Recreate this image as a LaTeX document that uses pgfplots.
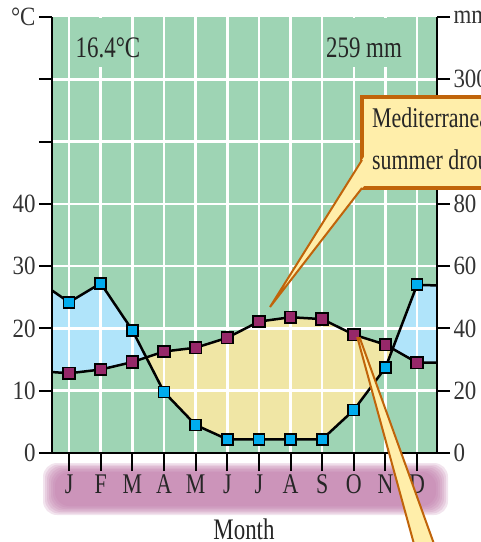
\documentclass[border=0pt]{standalone}
\usepackage{fontspec}
\setmainfont{Liberation Serif}
\usepackage{graphicx}
\usepackage{pgfplots}
\pgfplotsset{compat=1.18}
\usepgfplotslibrary{fillbetween}
\usepackage{pgfplotstable}

\definecolor{bggreen}{RGB}{158,212,180}
\definecolor{humid}{RGB}{176,228,250}
\definecolor{arid}{RGB}{240,230,165}
\definecolor{tempmark}{RGB}{150,40,105}
\definecolor{precmark}{RGB}{0,172,238}
\definecolor{boxfill}{RGB}{255,238,170}
\definecolor{boxedge}{RGB}{192,100,10}
\definecolor{bandcore}{RGB}{190,120,168}

% taller-than-wide lettering
\newcommand{\tl}[1]{\scalebox{1}[1.3]{#1}}
\newcommand{\tn}[1]{\scalebox{1}[1.15]{#1}}

% monthly mean temperature (degC) and precipitation (mm);
% the first and last rows continue the curves to the frame edges
\pgfplotstableread{
m      t     p
0.46   13.0  52.2
1      12.8  48.4
2      13.4  54.5
3      14.6  39.4
4      16.3  19.6
5      16.9  9.0
6      18.5  4.4
7      21.1  4.4
8      21.8  4.4
9      21.5  4.4
10     19.0  13.8
11     17.4  27.4
12     14.5  54.0
12.63  14.5  53.8
}\climate

\pgfplotsset{
  frame/.style={
    scale only axis, width=385bp, height=436bp,
    at={(52bp,-453bp)}, anchor=south west,
    xmin=0.46, xmax=12.63, ymin=0, ymax=70,
  },
  numfont/.style={font=\fontsize{23}{26}\selectfont},
}

\begin{document}
\begin{tikzpicture}

% soft pink band behind the month letters
\begin{scope}[x=1bp,y=-1bp]
  \foreach \i in {0,...,6}{
    \fill[bandcore, opacity=0.2, rounded corners=14bp]
      ({43+2*\i},{463+1.5*\i}) rectangle ({448-2*\i},{515-1.5*\i});
  }
\end{scope}

% background and humid / arid areas
\begin{axis}[frame, axis lines=none, ticks=none,
    axis background/.style={fill=bggreen}]
  \addplot[name path=prec, draw=none] table[x=m, y expr=\thisrow{p}/2]{\climate};
  \addplot[name path=temp, draw=none] table[x=m, y=t]{\climate};
  \addplot[draw=none] fill between[of=prec and temp, split,
      every even segment/.style={fill=humid},
      every odd segment/.style={fill=arid}];
\end{axis}

% grid, month axis and the two curves
\begin{axis}[frame,
    axis x line*=bottom, axis y line*=left,
    axis line style={-, line width=2bp, black},
    xtick={1,...,12},
    xticklabels={\tl{J},\tl{F},\tl{M},\tl{A},\tl{M},\tl{J},\tl{J},\tl{A},\tl{S},\tl{O},\tl{N},\tl{D}},
    ytick={10,20,...,60}, yticklabels={,,,,,},
    ytick style={draw=none},
    tick align=outside, major tick length=18bp,
    x tick style={line width=2bp, black},
    grid=major, major grid style={white, line width=2.5bp},
    x tick label style={font=\fontsize{22}{26}\selectfont, text=black!85},
  ]
  \addplot[black, line width=2.5bp] table[x=m, y expr=\thisrow{p}/2]{\climate};
  \addplot[only marks, mark=square*, mark size=5.5bp,
      mark options={fill=precmark, draw=black, line width=1.8bp},
      restrict x to domain=1:12] table[x=m, y expr=\thisrow{p}/2]{\climate};
  \addplot[black, line width=2.5bp] table[x=m, y=t]{\climate};
  \addplot[only marks, mark=square*, mark size=5.8bp,
      mark options={fill=tempmark, draw=black, line width=1.8bp},
      restrict x to domain=1:12] table[x=m, y=t]{\climate};
\end{axis}

% temperature scale
\begin{axis}[frame, hide x axis, axis y line*=left,
    axis line style={-, line width=2bp, black},
    ytick={0,10,...,70},
    yticklabels={\tn{0},\tn{10},\tn{20},\tn{30},\tn{40},{},{},\tn{°C}},
    tick align=outside, major tick length=13bp,
    tick style={line width=2bp, black},
    y tick label style={numfont, text=black!80},
  ]
\end{axis}

% precipitation scale
\begin{axis}[frame, hide x axis, axis y line*=right,
    axis line style={-, line width=2bp, black},
    ytick={0,10,...,70},
    yticklabels={\tn{0},\tn{20},\tn{40},\tn{60},\tn{80},\tn{100},\tn{300},\tn{mm}},
    tick align=outside, major tick length=13bp,
    tick style={line width=2bp, black},
    y tick label style={numfont, text=black!80},
  ]
\end{axis}

\begin{scope}[x=1bp,y=-1bp]
  % annual figures
  \fill[bggreen] (92,18) rectangle (110,67);
  \fill[bggreen] (346,18) rectangle (396,67);
  \node[font=\fontsize{23}{26}\selectfont, text=black!85] at (108,48) {\tl{16.4°C}};
  \node[font=\fontsize{23}{26}\selectfont, text=black!85] at (364,48) {\tl{259 mm}};

  % pointer from the low winter rainfall
  \filldraw[fill=boxfill, draw=boxedge, line width=2bp]
    (357.5,338) -- (359.8,338) -- (438,555) -- (417,555) -- cycle;

  % caption box with its pointer
  \filldraw[fill=boxfill, draw=boxedge, line width=3.5bp] (362,97) rectangle (520,188);
  \fill[boxfill] (270,307) -- (364,156.8) -- (364,186) -- (362,188) -- cycle;
  \draw[boxedge, line width=2bp] (362,160) -- (270,307) -- (362,188);
  \node[anchor=base west, font=\fontsize{22}{26}\selectfont, text=black!85, inner sep=0pt]
    at (372,128) {\tl{Mediterranean}};
  \node[anchor=base west, font=\fontsize{22}{26}\selectfont, text=black!85, inner sep=0pt]
    at (372,170) {\tl{summer drought}};

  \node[font=\fontsize{23}{26}\selectfont, text=black!85] at (244,529) {\tl{Month}};

  \pgfresetboundingbox
  \path[use as bounding box] (0,0) rectangle (481,542);
\end{scope}
\end{tikzpicture}
\end{document}
